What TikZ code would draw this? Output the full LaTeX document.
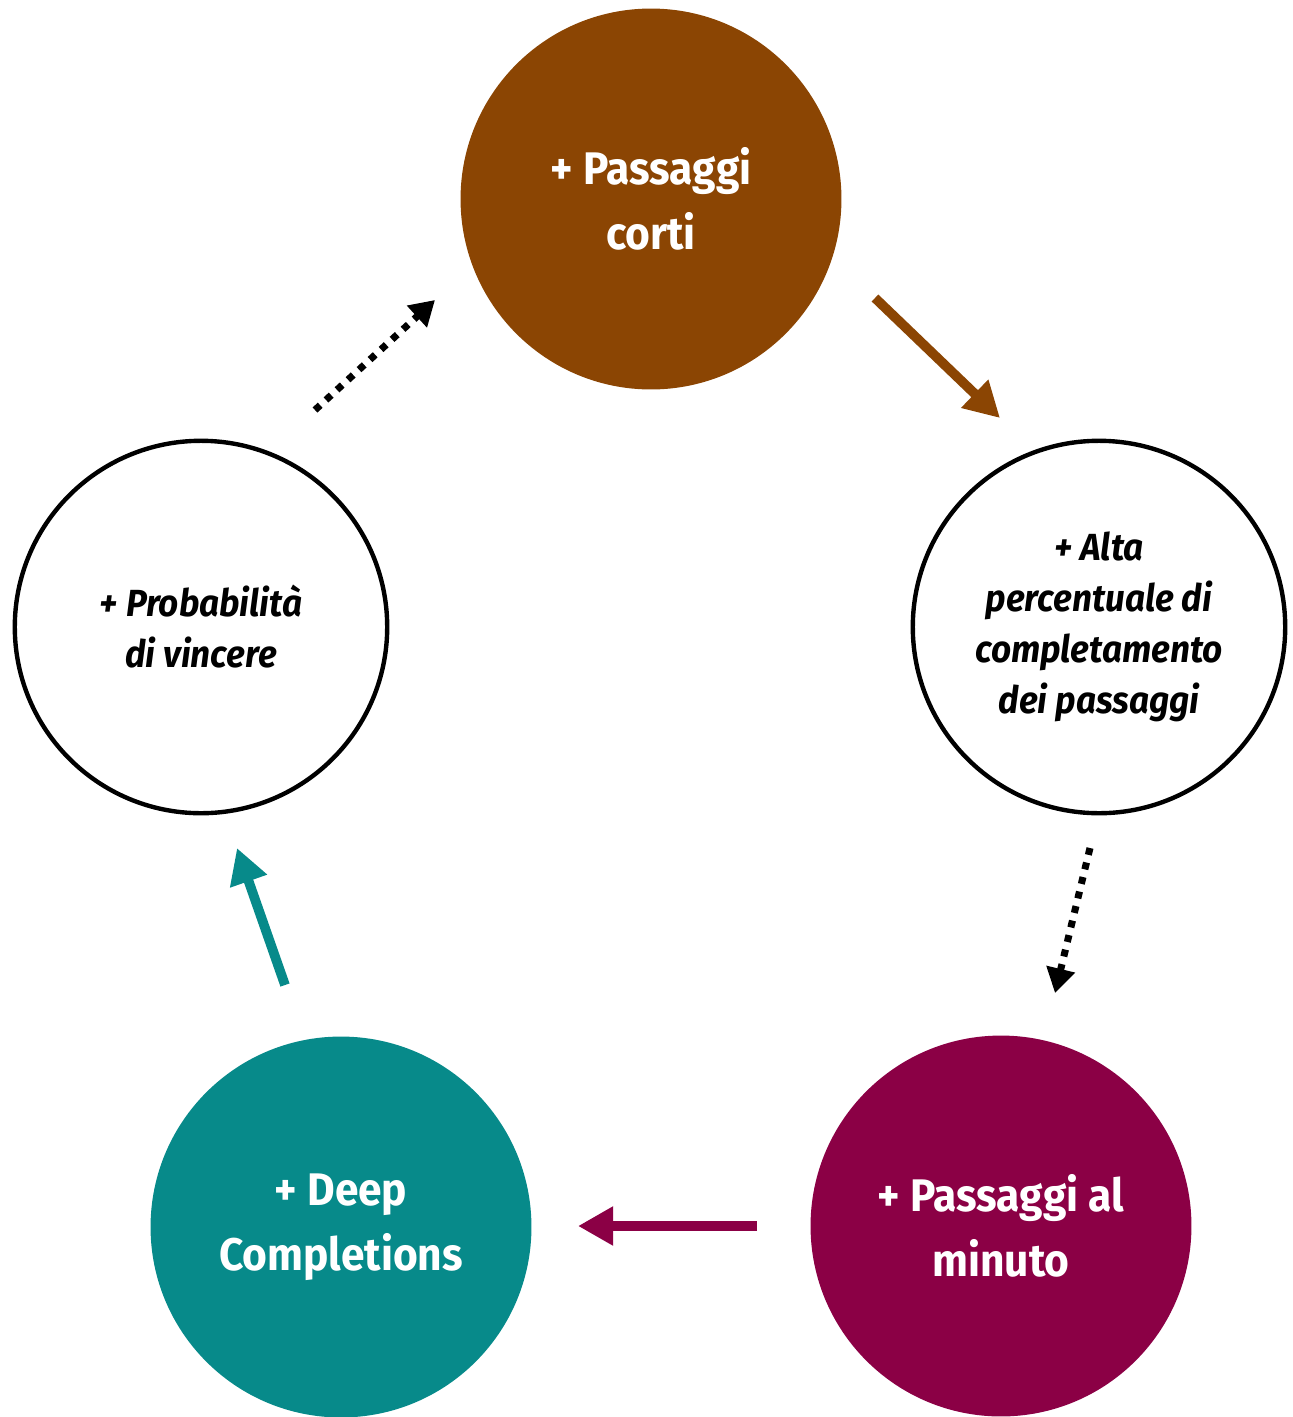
\documentclass[tikz,border=0pt]{standalone}
\usepackage{fontspec}
\usetikzlibrary{arrows.meta}
\newfontfamily\dosis[FakeStretch=0.93]{Fira Sans}
\definecolor{brownpass}{RGB}{139,69,3}
\definecolor{maroonmin}{RGB}{139,0,69}
\definecolor{tealdeep}{RGB}{7,138,138}
\begin{document}
\begin{tikzpicture}[x=0.02cm,y=-0.02cm,
    fullcircle/.style={circle,minimum size=7.62cm,inner sep=0pt,text=white,align=center,
        font=\dosis\bfseries\fontsize{26}{37}\selectfont},
    ringcircle/.style={circle,draw=black,line width=2.5pt,minimum size=7.45cm,inner sep=0pt,align=center,
        font=\dosis\bfseries\itshape\fontsize{21.5}{29}\selectfont},
    solidarrow/.style={line width=5.5pt,-{Triangle[length=20pt,width=21pt]}},
    dotarrow/.style={line width=4pt,dash pattern=on 4pt off 4.5pt,-{Triangle[length=14pt,width=16pt]}}]
    \useasboundingbox (0,0) rectangle (1293,1417);
    % circles
    \node[fullcircle,fill=brownpass] (corti) at (651,199) {+ Passaggi\\corti};
    \node[ringcircle] (alta) at (1099,627) {+ Alta\\percentuale di\\completamento\\dei passaggi};
    \node[fullcircle,fill=maroonmin] (minuto) at (1001,1226) {+ Passaggi al\\minuto};
    \node[fullcircle,fill=tealdeep] (deep) at (341,1227) {+ Deep\\Completions};
    \node[ringcircle] (vincere) at (201,627) {+ Probabilità\\di vincere};
    % arrow ends
    \coordinate (cortiout) at (875,298);
    \coordinate (altain) at (1000,418);
    \coordinate (altaout) at (1090,848);
    \coordinate (minutoin) at (1055,993);
    \coordinate (minutoout) at (757,1226);
    \coordinate (deepin) at (578,1226);
    \coordinate (deepout) at (285,985);
    \coordinate (vincerein) at (237,848);
    \coordinate (vincereout) at (315,410);
    \coordinate (cortiin) at (435,300);
    % arrows
    \draw[solidarrow,brownpass] (cortiout) -- (altain);
    \draw[dotarrow] (altaout) -- (minutoin);
    \draw[solidarrow,maroonmin] (minutoout) -- (deepin);
    \draw[solidarrow,tealdeep] (deepout) -- (vincerein);
    \draw[dotarrow] (vincereout) -- (cortiin);
\end{tikzpicture}
\end{document}
